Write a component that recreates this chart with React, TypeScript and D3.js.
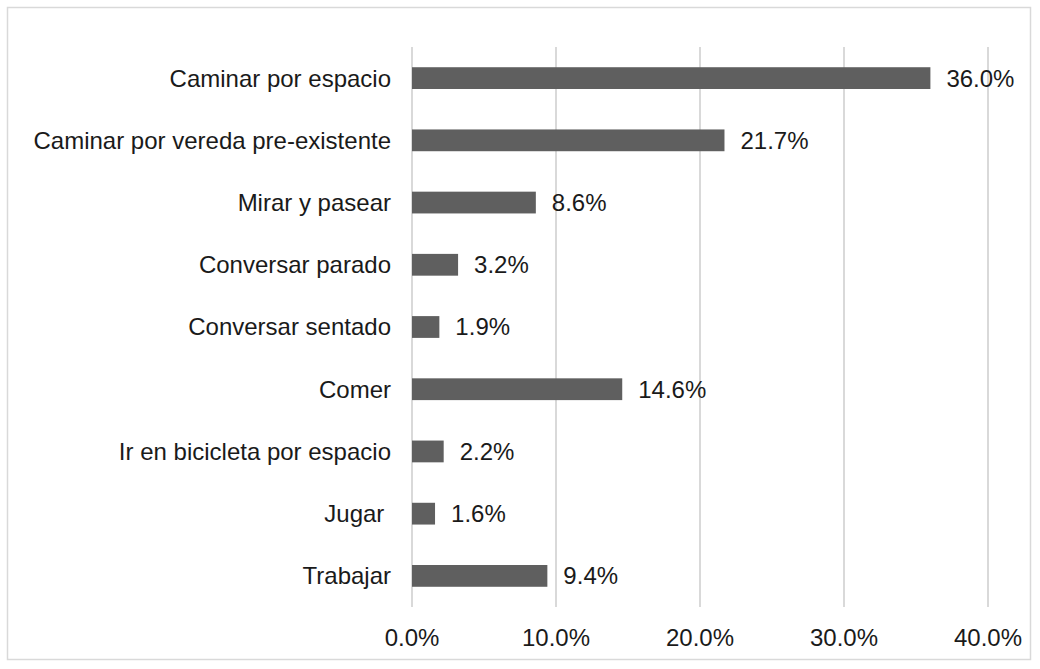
import React from "react";
import * as d3 from "d3";

const categories = [
  "Caminar por espacio",
  "Caminar por vereda pre-existente",
  "Mirar y pasear",
  "Conversar parado",
  "Conversar sentado",
  "Comer",
  "Ir en bicicleta por espacio",
  "Jugar ",
  "Trabajar",
];
const values = [36.0, 21.7, 8.6, 3.2, 1.9, 14.6, 2.2, 1.6, 9.4];
const ticks = [0, 10, 20, 30, 40];

const W = 1040;
const H = 669;
const FONT = "'Liberation Sans', Arial, sans-serif";
const FS = 24;

export default function App() {
  const x = d3.scaleLinear().domain([0, 40]).range([412, 988]);
  const y = d3.scaleBand<string>().domain(categories).range([47, 607]).paddingInner(0.65).paddingOuter(0.325);
  return (
    <svg width={W} height={H} style={{ position: "absolute", left: 0, top: 0 }}>
      <rect x={0} y={0} width={W} height={H} fill="#fff" />
      <rect x={7.5} y={7.5} width={1023} height={652} fill="#fff" stroke="#d9d9d9" strokeWidth={1.5} />
      {ticks.map((t) => (
        <g key={t}>
          <line x1={x(t)} x2={x(t)} y1={47} y2={607} stroke="#d9d9d9" strokeWidth={2} />
          <text x={x(t)} y={646} textAnchor="middle" fontFamily={FONT} fontSize={FS} fill="#1a1a1a">
            {d3.format(".1f")(t) + "%"}
          </text>
        </g>
      ))}
      {categories.map((c, i) => {
        const yy = y(c)!;
        const bh = y.bandwidth();
        return (
          <g key={c}>
            <rect x={x(0)} y={yy} width={x(values[i]) - x(0)} height={bh} fill="#5f5f5f" />
            <text x={391} y={yy + bh / 2} dy="0.35em" textAnchor="end" fontFamily={FONT} fontSize={FS} fill="#1a1a1a" style={{ whiteSpace: "pre" }}>
              {c}
            </text>
            <text x={x(values[i]) + 16} y={yy + bh / 2} dy="0.35em" fontFamily={FONT} fontSize={FS} fill="#1a1a1a">
              {values[i].toFixed(1) + "%"}
            </text>
          </g>
        );
      })}
    </svg>
  );
}
